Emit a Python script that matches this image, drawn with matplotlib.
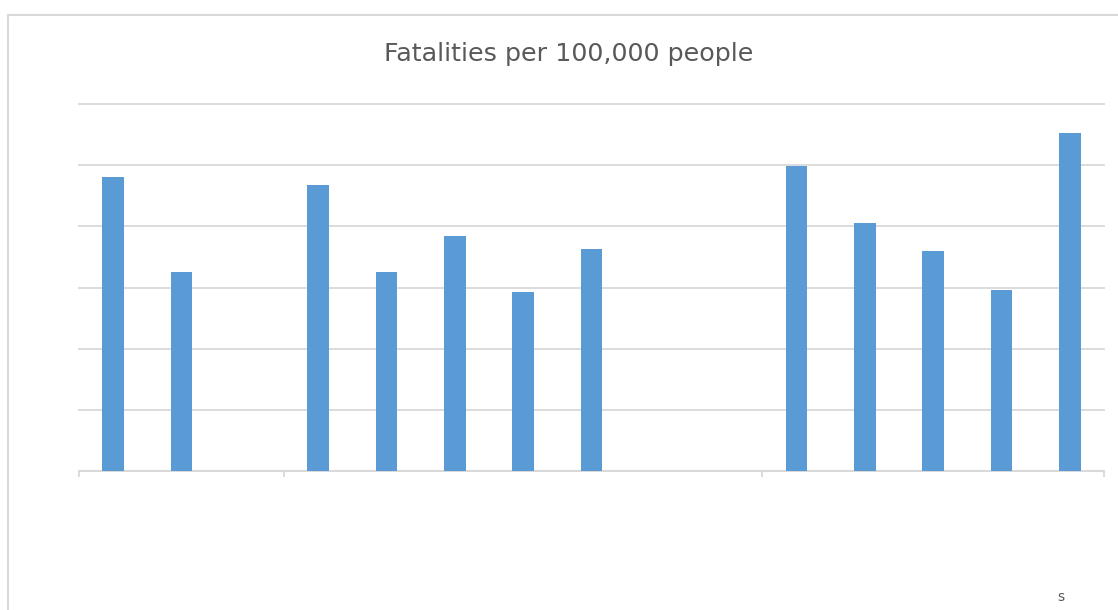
import matplotlib.pyplot as plt
import numpy as np

# 15 category slots in three groups, three slots have no value
groups = [3, 7, 5]
values = [4.81, 3.25, np.nan,
          4.68, 3.25, 3.84, 2.93, 3.63, np.nan, np.nan,
          4.99, 4.05, 3.60, 2.96, 5.53]
title = "Fatalities per 100,000 people"

grey = '#d9d9d9'
blue = '#5b9bd5'

fig = plt.figure(figsize=(11.18, 6.10), dpi=100)
ax = fig.add_axes([79 / 1118, 139 / 610, 1025 / 1118, 367 / 610])

x = np.arange(len(values))
ax.bar(x, values, width=0.32, color=blue, zorder=3)

ax.set_xlim(-0.5, len(values) - 0.5)
ax.set_ylim(0, 6)
ax.set_yticks(np.arange(1, 7))
ax.yaxis.grid(True, color=grey, lw=1.3, zorder=0)
for g in ax.yaxis.get_gridlines():
    g.set_clip_on(False)
ax.tick_params(axis='y', left=False, labelleft=False)

# group separators on the category axis
bounds = np.concatenate([[0], np.cumsum(groups)]) - 0.5
ax.set_xticks(bounds)
ax.set_xticklabels([])
ax.tick_params(axis='x', length=4, width=1.3, color=grey)

for s in ['top', 'right', 'left']:
    ax.spines[s].set_visible(False)
ax.spines['bottom'].set_color(grey)
ax.spines['bottom'].set_linewidth(1.5)

fig.text(569 / 1118, 1 - 54 / 610, title, ha='center', va='center',
         fontsize=18.3, color='#595959')
fig.text(1061 / 1118, 1 - 597 / 610, "s", ha='center', va='center',
         fontsize=10, color='#595959')

# chart border
fig.add_artist(plt.Line2D([8 / 1118, 8 / 1118], [0, 1 - 15 / 610],
                          color=grey, lw=1.5, transform=fig.transFigure))
fig.add_artist(plt.Line2D([8 / 1118, 1], [1 - 15 / 610, 1 - 15 / 610],
                          color=grey, lw=1.5, transform=fig.transFigure))

fig.savefig('out.png', dpi=100)
